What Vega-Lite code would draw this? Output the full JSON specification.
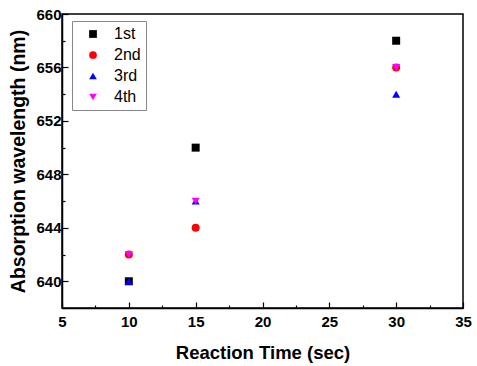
{
  "$schema": "https://vega.github.io/schema/vega-lite/v6.json",
  "width": 401,
  "height": 294,
  "autosize": "none",
  "padding": {"left": 62, "top": 14, "right": 14, "bottom": 58},
  "background": "white",
  "config": {
    "view": {"stroke": "black", "strokeWidth": 1.5},
    "font": "Liberation Sans"
  },
  "data": {
    "values": [
      {"time": 10, "wl": 640, "run": "1st"},
      {"time": 15, "wl": 650, "run": "1st"},
      {"time": 30, "wl": 658, "run": "1st"},
      {"time": 10, "wl": 642, "run": "2nd"},
      {"time": 15, "wl": 644, "run": "2nd"},
      {"time": 30, "wl": 656, "run": "2nd"},
      {"time": 10, "wl": 640, "run": "3rd"},
      {"time": 15, "wl": 646, "run": "3rd"},
      {"time": 30, "wl": 654, "run": "3rd"},
      {"time": 10, "wl": 642, "run": "4th"},
      {"time": 15, "wl": 646, "run": "4th"},
      {"time": 30, "wl": 656, "run": "4th"}
    ]
  },
  "mark": {"type": "point", "filled": true, "opacity": 1, "size": 64},
  "encoding": {
    "x": {
      "field": "time", "type": "quantitative",
      "scale": {"domain": [5, 35], "nice": false, "zero": false},
      "axis": {
        "title": "Reaction Time (sec)",
        "titleFont": "Liberation Sans", "titleFontSize": 18.5, "titleFontWeight": "bold", "titlePadding": 11,
        "values": [5, 7.5, 10, 12.5, 15, 17.5, 20, 22.5, 25, 27.5, 30, 32.5, 35],
        "labelExpr": "datum.value % 5 == 0 ? datum.label : ''",
        "labelFont": "Liberation Sans", "labelFontSize": 15, "labelFontWeight": "bold", "labelColor": "black",
        "labelPadding": 12, "labelFlush": false, "labelOverlap": false,
        "grid": false, "domainColor": "black", "domainWidth": 1.5,
        "tickColor": "black", "tickWidth": 1.2,
        "tickSize": {"condition": {"test": "datum.value % 5 == 0", "value": -6}, "value": -3}
      }
    },
    "y": {
      "field": "wl", "type": "quantitative",
      "scale": {"domain": [638, 660], "nice": false, "zero": false},
      "axis": {
        "title": "Absorption wavelength (nm)",
        "titleFont": "Liberation Sans", "titleFontSize": 19.5, "titleFontWeight": "bold", "titlePadding": 7,
        "values": [638, 640, 642, 644, 646, 648, 650, 652, 654, 656, 658, 660],
        "labelExpr": "datum.value % 4 == 0 ? datum.label : ''",
        "labelFont": "Liberation Sans", "labelFontSize": 15, "labelFontWeight": "bold", "labelColor": "black",
        "labelPadding": 7, "labelFlush": false, "labelOverlap": false,
        "grid": false, "domainColor": "black", "domainWidth": 1.5,
        "tickColor": "black", "tickWidth": 1.2,
        "tickSize": {"condition": {"test": "datum.value % 4 == 0", "value": -6}, "value": -3}
      }
    },
    "color": {
      "field": "run", "type": "nominal",
      "scale": {"domain": ["1st", "2nd", "3rd", "4th"], "range": ["#000000", "#ff0000", "#0000ff", "#ff00ff"]},
      "legend": {
        "title": null, "orient": "none", "legendX": 10, "legendY": 7,
        "strokeColor": "#888888", "fillColor": "white", "padding": 5,
        "labelFont": "Liberation Sans", "labelFontSize": 16, "labelColor": "black",
        "symbolSize": 60, "rowPadding": 5, "labelOffset": 13, "symbolOffset": 8, "symbolOpacity": 1
      }
    },
    "shape": {
      "field": "run", "type": "nominal",
      "scale": {"domain": ["1st", "2nd", "3rd", "4th"], "range": ["square", "circle", "triangle-up", "triangle-down"]},
      "legend": null
    }
  }
}
